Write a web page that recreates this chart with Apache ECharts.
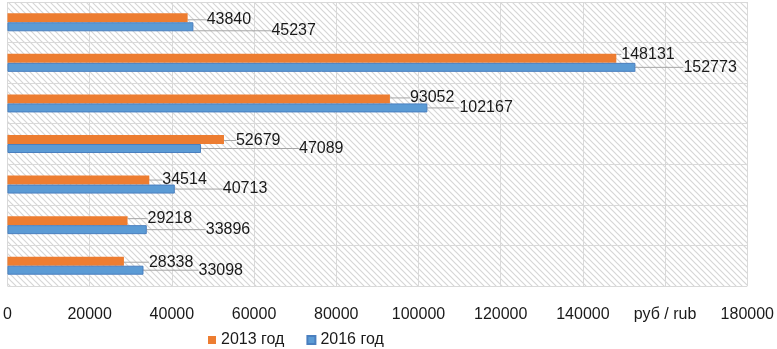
<!DOCTYPE html>
<html>
<head>
<meta charset="utf-8">
<script src="https://cdn.jsdelivr.net/npm/echarts@6/dist/echarts.min.js"></script>
<style>
  html, body { margin: 0; padding: 0; background: #fff; }
  #chart { width: 777px; height: 349px; }
</style>
</head>
<body>
<div id="chart"></div>
<script>
// categories top to bottom (no visible names in the source)
const categories = ['1', '2', '3', '4', '5', '6', '7']
const values2013 = [43840, 148131, 93052, 52679, 34514, 29218, 28338]
const values2016 = [45237, 152773, 102167, 47089, 40713, 33896, 33098]
const seriesNames = ['2013 год', '2016 год']
const unitLabel = 'руб / rub'

// label shifts (px) from the default right position, to imitate the leader-line labels
const shift2013 = [[14, 2], [0, -4], [15, -1], [7, 1], [8, 0], [15, -2], [20, 1]]
const shift2016 = [[73, 4], [43, 0], [27, 0], [93, 0], [43, 0], [54, 0], [50, 0]]

// diagonal hatch for the plot background
function makeHatch() {
  const c = document.createElement('canvas')
  c.width = 6
  c.height = 6
  const ctx = c.getContext('2d')
  ctx.fillStyle = '#ffffff'
  ctx.fillRect(0, 0, 6, 6)
  ctx.strokeStyle = '#d6d6d6'
  ctx.lineWidth = 1.2
  ctx.beginPath()
  ctx.moveTo(-1, -1); ctx.lineTo(7, 7)
  ctx.moveTo(-4, 2); ctx.lineTo(2, 8)
  ctx.moveTo(2, -4); ctx.lineTo(8, 2)
  ctx.stroke()
  return c
}

const font = "'Liberation Sans', Arial, sans-serif"

function labelCfg() {
  return {
    show: true,
    position: 'right',
    color: '#1a1a1a',
    fontSize: 16,
    fontFamily: font
  }
}

const chart = echarts.init(document.getElementById('chart'))
chart.setOption({
  animation: false,
  color: ['#ED7D31', '#5B9BD5'],
  grid: {
    left: 5,
    right: 28,
    top: 2,
    bottom: 63,
    show: true,
    borderWidth: 0,
    backgroundColor: { image: makeHatch(), repeat: 'repeat' }
  },
  legend: {
    bottom: -4,
    left: 203,
    icon: 'rect',
    itemWidth: 8,
    itemHeight: 8,
    itemGap: 22,
    textStyle: { fontSize: 16, fontFamily: font, color: '#1a1a1a' },
    data: seriesNames
  },
  xAxis: {
    type: 'value',
    min: 0,
    max: 180000,
    interval: 20000,
    axisLine: { show: false },
    axisTick: { show: false },
    splitLine: { lineStyle: { color: '#d9d9d9', width: 1 } },
    axisLabel: {
      margin: 21,
      fontSize: 16,
      fontFamily: font,
      color: '#1a1a1a',
      formatter(v) {
        return v === 160000 ? unitLabel : String(v)
      }
    }
  },
  yAxis: {
    type: 'category',
    inverse: true,
    data: categories,
    axisLine: { show: false },
    axisTick: { show: false },
    axisLabel: { show: false },
    splitLine: { show: true, lineStyle: { color: '#d9d9d9', width: 1 } }
  },
  series: [
    {
      name: seriesNames[0],
      type: 'bar',
      data: values2013,
      barWidth: 9,
      barGap: '0%',
      label: labelCfg(),
      labelLine: { show: true, lineStyle: { color: '#a6a6a6', width: 1 } },
      labelLayout(p) {
        const s = shift2013[p.dataIndex]
        return { dx: s[0], dy: s[1] }
      }
    },
    {
      name: seriesNames[1],
      type: 'bar',
      data: values2016,
      barWidth: 9,
      barGap: '0%',
      itemStyle: { borderColor: '#4a7fbf', borderWidth: 1 },
      label: labelCfg(),
      labelLine: { show: true, lineStyle: { color: '#a6a6a6', width: 1 } },
      labelLayout(p) {
        const s = shift2016[p.dataIndex]
        return { dx: s[0], dy: s[1] }
      }
    }
  ]
})
</script>
</body>
</html>
